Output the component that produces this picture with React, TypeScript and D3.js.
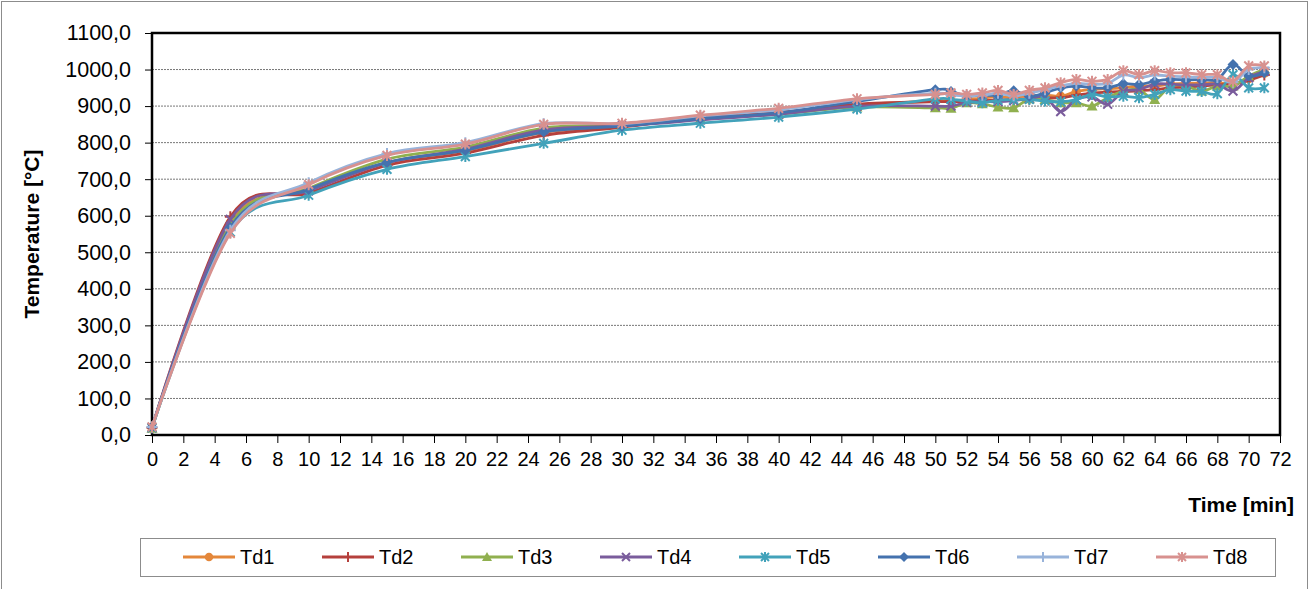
import { useEffect, useRef } from "react";
import * as d3 from "d3";

const width = 1313;
const height = 589;
const margin = { top: 33, right: 33, bottom: 154, left: 152 };

// time points [min]
const times = [
  0, 5, 10, 15, 20, 25, 30, 35, 40, 45, 50, 51, 52, 53, 54, 55, 56, 57, 58, 59,
  60, 61, 62, 63, 64, 65, 66, 67, 68, 69, 70, 71,
];

const td1 = [
  20, 580, 670, 745, 778, 828, 845, 866, 880, 903, 914, 914, 918, 922, 925, 925,
  928, 930, 927, 940, 945, 948, 950, 955, 955, 960, 962, 963, 964, 961, 975, 990,
];
const td2 = [
  20, 597, 662, 738, 771, 820, 842, 868, 882, 905, 912, 912, 913, 915, 916, 918,
  920, 922, 923, 930, 935, 938, 940, 942, 945, 950, 952, 955, 958, 960, 970, 985,
];
const td3 = [
  18, 575, 675, 755, 788, 840, 848, 865, 878, 897, 895, 894, 909, 906, 897, 895,
  920, 918, 909, 909, 900, 923, 941, 945, 918, 955, 955, 941, 955, 955, 982, 1000,
];
const td4 = [
  20, 590, 668, 745, 782, 835, 846, 862, 878, 900, 900, 900, 910, 912, 912, 915,
  920, 925, 885, 918, 925, 905, 940, 945, 960, 960, 958, 958, 960, 941, 977, 995,
];
const td5 = [
  20, 555, 656, 727, 762, 798, 834, 853, 870, 892, 920, 918, 914, 909, 916, 918,
  918, 914, 912, 918, 932, 925, 927, 923, 932, 945, 941, 940, 934, 986, 950, 950,
];
const td6 = [
  22, 568, 672, 746, 779, 829, 845, 866, 882, 913, 945, 940, 928, 930, 930, 942,
  927, 936, 950, 955, 950, 950, 961, 959, 968, 973, 972, 973, 973, 1014, 982, 991,
];
const td7 = [
  22, 560, 690, 770, 800, 852, 852, 873, 890, 918, 935, 930, 928, 930, 935, 928,
  935, 945, 955, 962, 960, 962, 985, 978, 985, 982, 980, 978, 978, 965, 1000, 1005,
];
const td8 = [
  22, 552, 685, 765, 796, 850, 853, 875, 894, 920, 932, 936, 932, 936, 943, 932,
  943, 950, 964, 973, 968, 973, 997, 986, 997, 991, 991, 986, 986, 968, 1010, 1010,
];

const seriesNames = ["Td1", "Td2", "Td3", "Td4", "Td5", "Td6", "Td7", "Td8"];
const seriesValues = [td1, td2, td3, td4, td5, td6, td7, td8];
const colors = [
  "#E4873A",
  "#B5403C",
  "#90B04F",
  "#7A5C9C",
  "#42A2BA",
  "#4472AE",
  "#98B3DA",
  "#D8918F",
];
const markers = ["circle", "plus", "triangle", "cross", "star", "diamond", "plus", "star"];

const yTicks = d3.range(0, 1101, 100);
const xTicks = d3.range(0, 73, 2);

const font = "Arial, 'Liberation Sans', sans-serif";

const drawMarker = (
  g: d3.Selection<SVGGElement, unknown, null, undefined>,
  type: string,
  cx: number,
  cy: number,
  color: string,
  r: number
) => {
  if (type === "circle") {
    g.append("circle").attr("cx", cx).attr("cy", cy).attr("r", r * 0.85).attr("fill", color);
  } else if (type === "triangle") {
    g.append("path")
      .attr("d", `M${cx},${cy - r}L${cx + r},${cy + r * 0.8}L${cx - r},${cy + r * 0.8}Z`)
      .attr("fill", color);
  } else if (type === "diamond") {
    g.append("path")
      .attr("d", `M${cx},${cy - r}L${cx + r},${cy}L${cx},${cy + r}L${cx - r},${cy}Z`)
      .attr("fill", color);
  } else {
    let d = "";
    if (type === "plus" || type === "star") {
      d += `M${cx},${cy - r}V${cy + r}`;
    }
    if (type === "plus") {
      d += `M${cx - r},${cy}H${cx + r}`;
    }
    if (type === "cross" || type === "star") {
      const k = r * 0.8;
      d += `M${cx - k},${cy - k}L${cx + k},${cy + k}M${cx - k},${cy + k}L${cx + k},${cy - k}`;
    }
    g.append("path").attr("d", d).attr("stroke", color).attr("stroke-width", 2).attr("fill", "none");
  }
};

const App = () => {
  const svgRef = useRef<SVGSVGElement>(null);

  useEffect(() => {
    const svg = d3.select(svgRef.current);
    svg.selectAll("*").remove();

    const xScale = d3
      .scaleLinear()
      .domain([0, 72])
      .range([margin.left, width - margin.right]);
    const yScale = d3
      .scaleLinear()
      .domain([0, 1100])
      .range([height - margin.bottom, margin.top]);

    // outer chart border
    svg
      .append("rect")
      .attr("x", 1.5)
      .attr("y", 1.5)
      .attr("width", 1306)
      .attr("height", 600)
      .attr("fill", "white")
      .attr("stroke", "#8c8c8c");

    // gridlines
    svg
      .append("g")
      .selectAll("line")
      .data(yTicks.slice(1))
      .join("line")
      .attr("x1", margin.left)
      .attr("x2", width - margin.right)
      .attr("y1", (d) => yScale(d))
      .attr("y2", (d) => yScale(d))
      .attr("stroke", "#777")
      .attr("stroke-width", 1)
      .attr("stroke-dasharray", "2,1");

    // y axis
    const yAxis = d3
      .axisLeft(yScale)
      .tickValues(yTicks)
      .tickSize(7)
      .tickPadding(14)
      .tickFormat((d) => d3.format(".1f")(d as number).replace(".", ","));
    const gy = svg
      .append("g")
      .attr("transform", `translate(${margin.left},0)`)
      .call(yAxis);
    gy.select(".domain").remove();
    gy.selectAll("line").attr("stroke", "#000");
    gy.selectAll("text")
      .attr("font-family", font)
      .attr("font-size", 21.5)
      .attr("fill", "#000");

    // x axis
    const xAxis = d3
      .axisBottom(xScale)
      .tickValues(xTicks)
      .tickSize(8)
      .tickPadding(9)
      .tickFormat((d) => String(d));
    const gx = svg
      .append("g")
      .attr("transform", `translate(0,${height - margin.bottom})`)
      .call(xAxis);
    gx.select(".domain").remove();
    gx.selectAll("line").attr("stroke", "#000");
    gx.selectAll("text")
      .attr("font-family", font)
      .attr("font-size", 20)
      .attr("fill", "#000");

    // plot frame
    svg
      .append("rect")
      .attr("x", margin.left)
      .attr("y", margin.top)
      .attr("width", width - margin.left - margin.right)
      .attr("height", height - margin.top - margin.bottom)
      .attr("fill", "none")
      .attr("stroke", "#000")
      .attr("stroke-width", 2.5);

    const line = d3
      .line<number>()
      .x((_, i) => xScale(times[i]))
      .y((d) => yScale(d))
      .curve(d3.curveCatmullRom.alpha(0));

    seriesValues.forEach((vals, si) => {
      const g = svg.append("g");
      g.append("path")
        .datum(vals)
        .attr("fill", "none")
        .attr("stroke", colors[si])
        .attr("stroke-width", 2.8)
        .attr("d", line);
      vals.forEach((v, i) => {
        drawMarker(g, markers[si], xScale(times[i]), yScale(v), colors[si], 5.5);
      });
    });

    // axis titles
    svg
      .append("text")
      .attr("transform", `translate(39,${(margin.top + height - margin.bottom) / 2}) rotate(-90)`)
      .attr("text-anchor", "middle")
      .attr("font-family", font)
      .attr("font-weight", "bold")
      .attr("font-size", 21)
      .text("Temperature [°C]");
    svg
      .append("text")
      .attr("x", 1294)
      .attr("y", 512)
      .attr("text-anchor", "end")
      .attr("font-family", font)
      .attr("font-weight", "bold")
      .attr("font-size", 21)
      .text("Time [min]");

    // legend
    const legend = svg.append("g");
    legend
      .append("rect")
      .attr("x", 140.5)
      .attr("y", 538.5)
      .attr("width", 1135)
      .attr("height", 38)
      .attr("fill", "white")
      .attr("stroke", "#8c8c8c");
    seriesNames.forEach((name, si) => {
      const lx = 183 + si * 139;
      const ly = 557;
      const item = legend.append("g");
      item
        .append("line")
        .attr("x1", lx)
        .attr("x2", lx + 52)
        .attr("y1", ly)
        .attr("y2", ly)
        .attr("stroke", colors[si])
        .attr("stroke-width", 3);
      drawMarker(item, markers[si], lx + 26, ly, colors[si], 5);
      item
        .append("text")
        .attr("x", lx + 57)
        .attr("y", ly + 7)
        .attr("font-family", font)
        .attr("font-size", 20)
        .text(name);
    });
  }, []);

  return (
    <div style={{ position: "absolute", left: 0, top: 0 }}>
      <svg ref={svgRef} width={width} height={height} style={{ display: "block" }}></svg>
    </div>
  );
};

export default App;
